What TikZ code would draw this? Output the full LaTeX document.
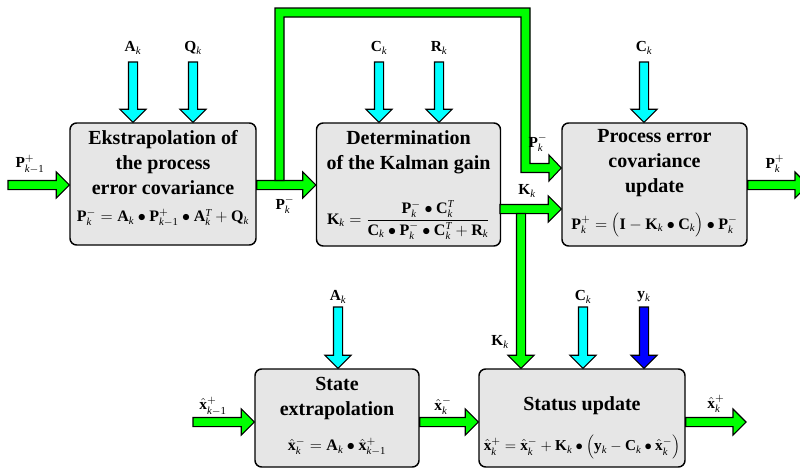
\documentclass[tikz,border=0pt]{standalone}
\usepackage{fontspec}
\setmainfont{Liberation Serif}
\usetikzlibrary{calc}
\definecolor{fgreen}{RGB}{0,255,0}
\definecolor{fcyan}{RGB}{0,255,255}
\definecolor{fblue}{RGB}{0,0,255}
\definecolor{boxgray}{RGB}{230,230,230}
\newcommand{\kk}{\mathit{k}}
\newcommand{\km}{\mathit{k}-\mathrm{1}}
\newcommand{\fatright}[3]{%
  \draw[fat,fill=#1] let \p1=(#2),\p2=(#3) in
    (\x1,\y1+3.4pt) -- (\x2-9.75pt,\y1+3.4pt) -- (\x2-9.75pt,\y1+9.75pt) -- (\x2,\y1)
    -- (\x2-9.75pt,\y1-9.75pt) -- (\x2-9.75pt,\y1-3.4pt) -- (\x1,\y1-3.4pt) -- cycle;}
\newcommand{\fatdown}[3]{%
  \draw[fat,fill=#1] let \p1=(#2),\p2=(#3) in
    (\x1-3.4pt,\y1) -- (\x1-3.4pt,\y2+9.75pt) -- (\x1-9.75pt,\y2+9.75pt) -- (\x1,\y2)
    -- (\x1+9.75pt,\y2+9.75pt) -- (\x1+3.4pt,\y2+9.75pt) -- (\x1+3.4pt,\y1) -- cycle;}
\begin{document}
\begin{tikzpicture}[x=0.75pt,y=-0.75pt,
  box/.style={draw=black,line width=1.1pt,fill=boxgray,rounded corners=5pt,inner sep=0pt},
  fat/.style={draw=black,line width=0.8pt,line join=miter},
  title/.style={font=\fontsize{15}{18.75}\selectfont\bfseries,align=center,inner sep=0pt},
  formula/.style={font=\fontsize{12}{14.5}\selectfont,inner sep=0pt},
  lbl/.style={font=\fontsize{11.5}{14}\selectfont,inner sep=0pt}]
\clip (0,0) rectangle (800,469);
\fill[white] (0,0) rectangle (800,469);
% boxes
\node[box,minimum width=139.5pt,minimum height=91.5pt] (b1) at (163,184) {};
\node[box,minimum width=138pt,minimum height=92.25pt] (b2) at (408.5,184.5) {};
\node[box,minimum width=138.75pt,minimum height=92.25pt] (b3) at (654.5,184.5) {};
\node[box,minimum width=123pt,minimum height=73.5pt] (b4) at (337,418) {};
\node[box,minimum width=154.5pt,minimum height=73.5pt] (b5) at (582,418) {};
% box texts
\node[title] (t1) at (163,163) {Ekstrapolation of\\the process\\error covariance};
\node[formula] (f1) at (163,218) {$\mathbf{P}^{-}_{\kk}=\mathbf{A}_{\kk}\bullet\mathbf{P}^{+}_{\km}\bullet\mathbf{A}^{\mathit{T}}_{\kk}+\mathbf{Q}_{\kk}$};
\node[title] (t2) at (408.5,152.5) {Determination\\of the Kalman gain};
\node[formula] (f2) at (408.5,220) {$\mathbf{K}_{\kk}=\displaystyle\frac{\mathbf{P}^{-}_{\kk}\bullet\mathbf{C}^{\mathit{T}}_{\kk}}{\mathbf{C}_{\kk}\bullet\mathbf{P}^{-}_{\kk}\bullet\mathbf{C}^{\mathit{T}}_{\kk}+\mathbf{R}_{\kk}}$};
\node[title] (t3) at (654.5,163) {Process error\\covariance\\update};
\node[formula] (f3) at (654.5,225) {$\mathbf{P}^{+}_{\kk}=\Bigl(\mathbf{I}-\mathbf{K}_{\kk}\bullet\mathbf{C}_{\kk}\Bigr)\bullet\mathbf{P}^{-}_{\kk}$};
\node[title] (t4) at (337,398.5) {State\\extrapolation};
\node[formula] (f4) at (337,447) {$\hat{\mathbf{x}}^{-}_{\kk}=\mathbf{A}_{\kk}\bullet\hat{\mathbf{x}}^{+}_{\km}$};
\node[title] (t5) at (582,406) {Status update};
\node[formula,font=\fontsize{11.4}{14}\selectfont] (f5) at (582,447) {$\hat{\mathbf{x}}^{+}_{\kk}=\hat{\mathbf{x}}^{-}_{\kk}+\mathbf{K}_{\kk}\bullet\Bigl(\mathbf{y}_{\kk}-\mathbf{C}_{\kk}\bullet\hat{\mathbf{x}}^{-}_{\kk}\Bigr)$};
% coordinates
\coordinate (row1) at (0,185);
\coordinate (row2) at (0,422);
\coordinate (inP) at (8,185);
\coordinate (outP) at (808,185);
\coordinate (inX) at (193,422);
\coordinate (outX) at (746,422);
\coordinate (kst) at (500,209);
\coordinate (kdn) at (521,213.5);
\coordinate (ak1) at (133,62);
\coordinate (qk1) at (193,62);
\coordinate (ck1) at (379,62);
\coordinate (rk1) at (439,62);
\coordinate (ck2) at (644,62);
\coordinate (ak2) at (338,307);
\coordinate (ck3) at (583,307);
\coordinate (yk) at (644,307);
% horizontal arrows
\fatright{fgreen}{inP}{b1.west}
\fatright{fgreen}{b1.east |- row1}{b2.west}
\fatright{fgreen}{b3.east |- row1}{outP}
\fatright{fgreen}{kst}{b3.west}
\fatright{fgreen}{inX}{b4.west}
\fatright{fgreen}{b4.east |- row2}{b5.west}
\fatright{fgreen}{b5.east |- row2}{outX}
% feedback loop P_k^-
\draw[fat,fill=fgreen] (275,180.5) -- (275,8) -- (530,8) -- (530,163.5) -- (549,163.5)
  -- (549,155) -- (b3.west |- 0,168) -- (549,181) -- (549,172.5) -- (521,172.5)
  -- (521,17) -- (284,17) -- (284,180.5) -- cycle;
% vertical arrows
\fatdown{fcyan}{ak1}{ak1 |- b1.north}
\fatdown{fcyan}{qk1}{qk1 |- b1.north}
\fatdown{fcyan}{ck1}{ck1 |- b2.north}
\fatdown{fcyan}{rk1}{rk1 |- b2.north}
\fatdown{fcyan}{ck2}{ck2 |- b3.north}
\fatdown{fcyan}{ak2}{ak2 |- b4.north}
\fatdown{fcyan}{ck3}{ck3 |- b5.north}
\fatdown{fblue}{yk}{yk |- b5.north}
\fatdown{fgreen}{kdn}{kdn |- b5.north}
% labels
\node[lbl] (lak1) at (133,48) {$\mathbf{A}_{\kk}$};
\node[lbl] (lqk1) at (193,48) {$\mathbf{Q}_{\kk}$};
\node[lbl] (lck1) at (379,48) {$\mathbf{C}_{\kk}$};
\node[lbl] (lrk1) at (439,48) {$\mathbf{R}_{\kk}$};
\node[lbl] (lck2) at (644,48) {$\mathbf{C}_{\kk}$};
\node[lbl] (lpin) at (30,164) {$\mathbf{P}^{+}_{\km}$};
\node[lbl] (lpm1) at (285,205) {$\mathbf{P}^{-}_{\kk}$};
\node[lbl] (lpm2) at (538,143) {$\mathbf{P}^{-}_{\kk}$};
\node[lbl] (lkk1) at (527,191) {$\mathbf{K}_{\kk}$};
\node[lbl] (lpout) at (775,164) {$\mathbf{P}^{+}_{\kk}$};
\node[lbl] (lkk2) at (500,342) {$\mathbf{K}_{\kk}$};
\node[lbl] (lak2) at (338,297) {$\mathbf{A}_{\kk}$};
\node[lbl] (lck3) at (583,297) {$\mathbf{C}_{\kk}$};
\node[lbl] (lyk) at (644,297) {$\mathbf{y}_{\kk}$};
\node[lbl] (lxin) at (213,406) {$\hat{\mathbf{x}}^{+}_{\km}$};
\node[lbl] (lxm) at (443,406) {$\hat{\mathbf{x}}^{-}_{\kk}$};
\node[lbl] (lxout) at (716,404) {$\hat{\mathbf{x}}^{+}_{\kk}$};
\end{tikzpicture}
\end{document}
